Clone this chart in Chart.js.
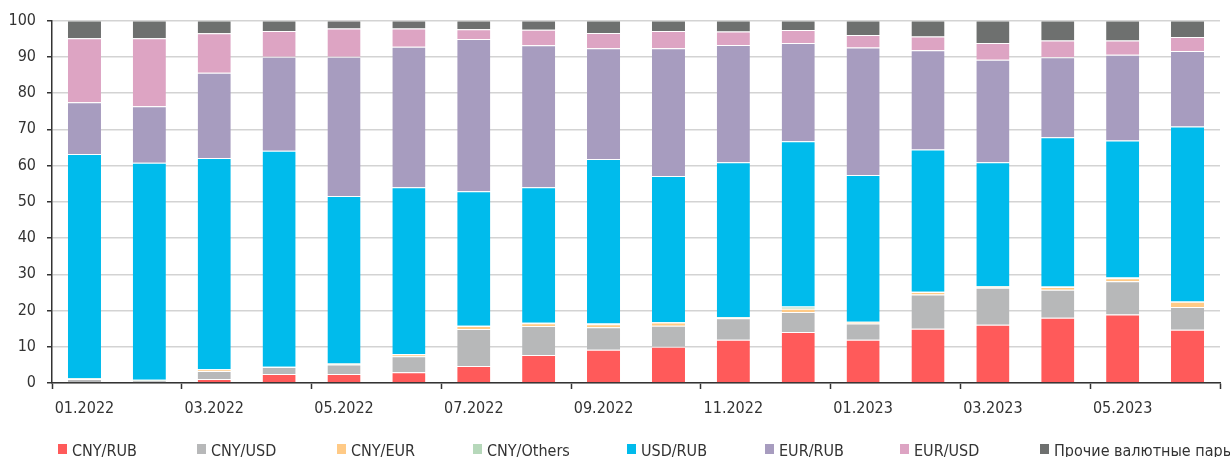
<!doctype html>
<html lang="ru">
<head>
<meta charset="utf-8">
<title>Валютные пары</title>
<script src="https://cdn.jsdelivr.net/npm/chart.js"></script>
<style>
  html, body { margin: 0; padding: 0; background: #fff; overflow: hidden; }
  #wrap { width: 1230px; height: 457px; position: relative; }
</style>
</head>
<body>
<div id="wrap"><canvas id="myChart"></canvas></div>
<script>
  const months = ['01.2022','02.2022','03.2022','04.2022','05.2022','06.2022','07.2022','08.2022','09.2022',
                  '10.2022','11.2022','12.2022','01.2023','02.2023','03.2023','04.2023','05.2023','06.2023'];

  const cnyRub    = [0, 0, 1.1, 2.5, 2.5, 3.0, 4.7, 7.7, 9.2, 10.0, 11.9, 14.1, 11.9, 15.0, 16.1, 18.0, 18.9, 14.7];
  const cnyUsd    = [1.1, 0.7, 2.2, 1.9, 2.6, 4.4, 10.2, 8.0, 6.2, 5.8, 6.0, 5.5, 4.5, 9.4, 10.2, 7.7, 9.2, 6.3];
  const cnyEur    = [0, 0, 0.4, 0, 0.1, 0.5, 0.8, 0.8, 0.8, 0.9, 0.1, 0.9, 0.4, 0.7, 0.1, 0.8, 0.8, 1.4];
  const cnyOthers = [0.2, 0.2, 0.1, 0.1, 0.2, 0.1, 0.1, 0.1, 0.2, 0.1, 0.2, 0.6, 0.1, 0.1, 0.3, 0.1, 0.2, 0.1];
  const usdRub    = [61.9, 59.9, 58.3, 59.6, 46.2, 46.0, 37.1, 37.4, 45.4, 40.3, 42.7, 45.6, 40.5, 39.2, 34.2, 41.2, 37.8, 48.3];
  const eurRub    = [14.3, 15.6, 23.5, 25.9, 38.4, 38.8, 42.0, 39.2, 30.6, 35.3, 32.4, 27.1, 35.2, 27.4, 28.3, 22.1, 23.7, 20.8];
  const eurUsd    = [17.6, 18.7, 10.9, 7.1, 7.8, 5.0, 2.7, 4.3, 4.2, 4.7, 3.7, 3.6, 3.4, 3.8, 4.6, 4.6, 3.9, 3.9];
  const otherPairs= [4.9, 4.9, 3.5, 2.9, 2.2, 2.2, 2.4, 2.5, 3.4, 2.9, 3.0, 2.6, 4.0, 4.4, 6.2, 5.5, 5.5, 4.5];

  const yTicks = [0, 10, 20, 30, 40, 50, 60, 70, 80, 90, 100];

  const series = [
    { label: 'CNY/RUB', data: cnyRub, color: '#ff5a5a' },
    { label: 'CNY/USD', data: cnyUsd, color: '#b7b8b9' },
    { label: 'CNY/EUR', data: cnyEur, color: '#ffca86' },
    { label: 'CNY/Others', data: cnyOthers, color: '#b6d8ba' },
    { label: 'USD/RUB', data: usdRub, color: '#00bbec' },
    { label: 'EUR/RUB', data: eurRub, color: '#a79cbf' },
    { label: 'EUR/USD', data: eurUsd, color: '#dda4c3' },
    { label: 'Прочие валютные пары', data: otherPairs, color: '#6e706f' }
  ];

  const FONT = "'Liberation Sans Narrow', 'DejaVu Sans Condensed', 'Liberation Sans', Arial, sans-serif";
  const AXIS = '#333333';

  // legend drawn along the bottom edge, one slot per series
  const legendX = [58, 197, 337, 473, 627, 765, 900, 1040];
  const bottomLegend = {
    id: 'bottomLegend',
    afterDraw(chart) {
      const ctx = chart.ctx;
      ctx.save();
      ctx.font = '16px ' + FONT;
      ctx.textBaseline = 'alphabetic';
      ctx.textAlign = 'left';
      chart.data.datasets.forEach((ds, i) => {
        const x = legendX[i];
        ctx.fillStyle = ds.backgroundColor;
        ctx.fillRect(x, 444, 9, 10);
        ctx.fillStyle = AXIS;
        ctx.fillText(ds.label, x + 14, 456);
      });
      ctx.restore();
    }
  };

  new Chart(document.getElementById('myChart'), {
    type: 'bar',
    data: {
      labels: months,
      datasets: series.map(s => ({
        label: s.label,
        data: s.data,
        backgroundColor: s.color,
        borderColor: 'rgba(255,255,255,0.5)',
        borderWidth: { top: 1 },
        borderSkipped: false,
        barPercentage: 0.51,
        categoryPercentage: 1.0
      }))
    },
    options: {
      responsive: true,
      maintainAspectRatio: false,
      animation: false,
      layout: { padding: { top: 18, right: 10, bottom: 0, left: 0 } },
      plugins: {
        legend: { display: false },
        tooltip: { enabled: false }
      },
      scales: {
        x: {
          stacked: true,
          offset: true,
          afterFit(scale) { scale.height = 74; },
          grid: {
            offset: true,
            drawOnChartArea: false,
            drawTicks: true,
            tickLength: 6,
            tickWidth: 1.5,
            tickColor: (ctx) => ((ctx.index ?? 0) % 2 === 0 ? AXIS : 'rgba(0,0,0,0)')
          },
          border: { color: AXIS, width: 1.5 },
          ticks: {
            autoSkip: false,
            maxRotation: 0,
            padding: 10,
            color: AXIS,
            font: { family: FONT, size: 16 },
            callback(value, index) { return index % 2 === 0 ? months[index] : ''; }
          }
        },
        y: {
          stacked: true,
          min: 0,
          max: 100,
          afterFit(scale) { scale.width = 52; },
          afterBuildTicks(scale) { scale.ticks = yTicks.map(v => ({ value: v })); },
          grid: {
            color: '#d3d3d3',
            lineWidth: 1.5,
            tickLength: 5,
            tickColor: AXIS,
            tickWidth: 1.5
          },
          border: { color: AXIS, width: 1.5 },
          ticks: {
            padding: 11,
            color: AXIS,
            font: { family: FONT, size: 16 }
          }
        }
      }
    },
    plugins: [bottomLegend]
  });
</script>
</body>
</html>
